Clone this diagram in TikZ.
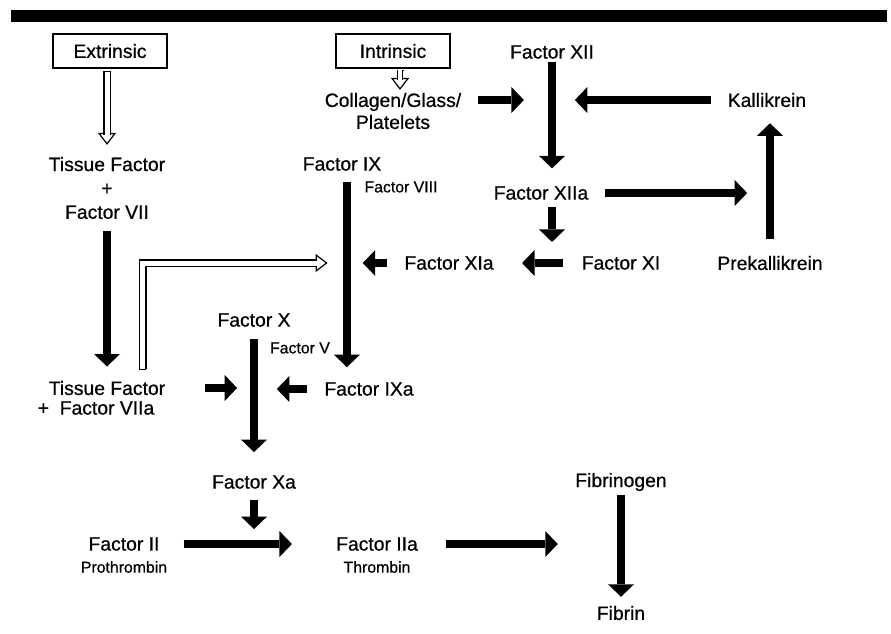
\documentclass[tikz,border=0pt]{standalone}
\usepackage{fontspec}
\setmainfont{Liberation Sans}[FakeBold=0.6]
\usetikzlibrary{arrows.meta,calc}
\tikzset{%
  factor/.style     = {font=\fontsize{11}{13.6}\selectfont, inner sep=1pt, align=center},
  note/.style       = {font=\fontsize{9}{10}\selectfont, inner sep=1pt}, % cofactors
  pathway/.style    = {draw, line width=0.8pt, minimum width=2.28cm,
    minimum height=0.68cm, font=\fontsize{11}{13}\selectfont},
  fat/.style        = {line width=0.16cm,
    -{Triangle[width=0.52cm, length=0.25cm, line width=0pt]}},
  hollowhead/.style = {line width=0.7pt,
    {Bar[width=4pt]}-{Triangle[fill=white, width=0.36cm, length=0.24cm]}},
  hollowbody/.style = {double, double distance=0.1cm, line width=0.7pt, line join=miter}
}
\begin{document}
\begin{tikzpicture}[x=0.02cm, y=-0.02cm]
\useasboundingbox (0,0) rectangle (891,633);
\fill (11,10) rectangle (887,22);
\draw
	node at(110,51)[pathway, name=ext]{Extrinsic}
	node at(393,51)[pathway, name=intr]{Intrinsic}
	node at(393,111)[factor, name=coll, font=\fontsize{11}{12.5}\selectfont]{Collagen/Glass/\\Platelets};
% intrinsic side
\draw
	node at(552,52)[factor, name=XII]{Factor XII}
	node at(767,100)[factor, name=kal]{Kallikrein}
	node at(541,193)[factor, name=XIIa]{Factor XIIa}
	node at(770,263)[factor, name=prek]{Prekallikrein}
	node at(621,263)[factor, name=XI]{Factor XI}
	node at(449,263)[factor, name=XIa]{Factor XIa}
	node at(342,164)[factor, name=IX]{Factor IX}
	node at(401,187)[note, name=VIII]{Factor VIII};
% extrinsic side
\draw
	node at(107,188)[factor, name=tfvii]{Tissue Factor\\+\\Factor VII}
	node at(107,388)[factor, name=tfa]{Tissue Factor}
	node at(96,408)[factor, name=tfaplus]{+\ \ Factor VIIa};
% common pathway
\draw
	node at(254,320)[factor, name=X]{Factor X}
	node at(300,348)[note, name=V]{Factor V}
	node at(369,389)[factor, name=IXa]{Factor IXa}
	node at(254,482)[factor, name=Xa]{Factor Xa}
	node at(124,544)[factor, name=II]{Factor II}
	node at(124,567)[note, name=pro]{Prothrombin}
	node at(377,544)[factor, name=IIa]{Factor IIa}
	node at(377,567)[note, name=thr]{Thrombin}
	node at(621,482)[factor, name=fgen]{Fibrinogen}
	node at(621,613)[factor, name=fib]{Fibrin};
\coordinate (ixl) at ([xshift=2.8pt]IX.south);
\coordinate (j12) at (XII.south |- kal.west);
	\draw[fat, shorten <=0.5pt, shorten >=9pt] (XII.south) -- (XII.south |- XIIa.north);
	\draw[fat, shorten <=8.5pt, shorten >=16pt] (coll.east |- j12) -- (j12);
	\draw[fat, shorten <=8.5pt, shorten >=13pt] (kal.west) -- (j12);
	\draw[fat, shorten <=8.5pt, shorten >=8pt] (prek.north) -- (prek.north |- kal.south);
	\draw[fat, shorten <=8.5pt, shorten >=13pt] (XIIa.east) -- (prek.north |- XIIa.east);
	\draw[fat, shorten <=3pt, shorten >=12pt] (j12 |- XIIa.south) -- (j12 |- XI.west);
	\draw[fat, shorten <=9.5pt, shorten >=15pt] (XI.west) -- (XIa.east);
	\draw[fat, shorten <=5pt, shorten >=7.4pt] (ixl) -- (ixl |- IXa.north);
	\draw[fat, shorten <=8.5pt, shorten >=9pt] (XIa.west) -- (ixl |- XIa.west);
% hollow arrows
	\draw[hollowhead, shorten <=1.1pt, shorten >=5.7pt] (tfvii.north |- ext.south) -- (tfvii.north);
	\draw[hollowbody, shorten <=1.6pt, shorten >=11.5pt] (tfvii.north |- ext.south) -- (tfvii.north);
	\draw[hollowhead, shorten <=0.5pt, shorten >=0.5pt] ([xshift=4pt]intr.south) -- ([xshift=4pt]coll.north);
	\draw[hollowbody, double distance=0.07cm, shorten <=1pt, shorten >=6.3pt] ([xshift=4pt]intr.south) -- ([xshift=4pt]coll.north);
	\draw[hollowhead, shorten <=5pt, shorten >=11pt] ([xshift=20.4pt]tfa.north) |- (ixl |- XIa.west);
	\draw[hollowbody, shorten <=5.5pt, shorten >=16.8pt] ([xshift=20.4pt]tfa.north) |- (ixl |- XIa.west);
% to thrombin and fibrin
	\draw[fat, shorten <=5.7pt, shorten >=7pt] (tfvii.south) -- (tfvii.south |- tfa.north);
	\draw[fat, shorten <=5.7pt, shorten >=12pt] (X.south) -- (X.south |- Xa.north);
	\draw[fat, shorten <=21.5pt, shorten >=9.6pt] (tfa.east) -- (X.south |- tfa.east);
	\draw[fat, shorten <=8.5pt, shorten >=13pt] (IXa.west) -- (X.south |- IXa.west);
	\draw[fat, shorten <=5pt, shorten >=8.5pt] (Xa.south) -- (Xa.south |- II.east);
	\draw[fat, shorten <=12.5pt, shorten >=24pt] (II.east) -- (IIa.west);
	\draw[fat, shorten <=15pt, shorten >=36pt] (IIa.east) -- (fgen.south |- IIa.east);
	\draw[fat, shorten <=1pt, shorten >=4pt] (fgen.south) -- (fgen.south |- fib.north);
\end{tikzpicture}
\end{document}
